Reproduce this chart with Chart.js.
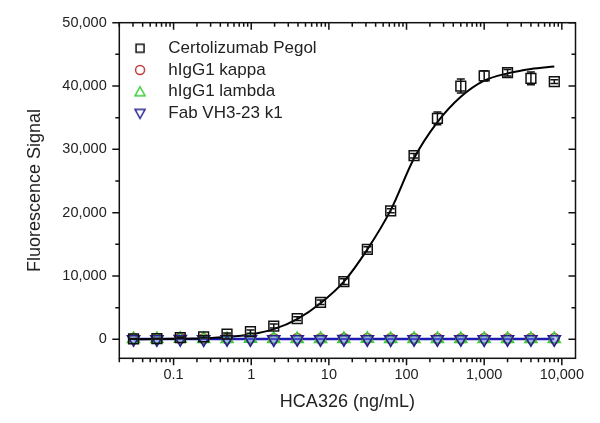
<!DOCTYPE html>
<html>
<head>
<meta charset="utf-8">
<script src="https://cdn.jsdelivr.net/npm/chart.js"></script>
<style>
  body { margin: 0; background: #fff; }
  canvas { display: block; }
</style>
</head>
<body>
<canvas id="chart" width="600" height="423"></canvas>
<script>
// concentrations of HCA326 (ng/mL), 2-fold dilution series
const concentrations = [0.0305, 0.061, 0.122, 0.244, 0.488, 0.977, 1.95, 3.91, 7.81, 15.6, 31.3, 62.5, 125, 250, 500, 1000, 2000, 4000, 8000];

const certolizumab = [80, 120, 250, 400, 800, 1200, 2100, 3250, 5850, 9100, 14200, 20300, 29000, 34900, 40000, 41600, 42100, 41200, 40700];
const certolizumabErr = [60, 60, 100, 150, 200, 250, 300, 300, 350, 450, 400, 300, 350, 1000, 1100, 800, 500, 1000, 300];
const certolizumabFit = [15, 30, 70, 160, 350, 750, 1600, 3200, 5700, 9100, 14200, 20400, 28600, 34300, 38300, 40850, 42000, 42700, 43100];

const hIgG1Kappa = [120, 100, 150, 90, 110, 130, 100, 120, 90, 110, 130, 100, 120, 110, 90, 120, 100, 130, 110];
const hIgG1Lambda = [60, 40, 80, 50, 30, 70, 50, 40, 60, 50, 70, 40, 60, 50, 30, 60, 50, 40, 60];
const fabVH3 = [20, 10, 30, 0, 20, 10, 0, 20, 10, 30, 10, 0, 20, 10, 20, 0, 10, 20, 10];
const fabFit = [30, 30];
const fabFitX = [0.0305, 8000];

const xTicks = [0.1, 1, 10, 100, 1000, 10000];
const yTicks = [0, 10000, 20000, 30000, 40000, 50000];

const FONT = '"Liberation Sans", Arial, sans-serif';
Chart.defaults.font.family = FONT;
Chart.defaults.color = '#222';

const pts = (xs, ys) => xs.map((x, i) => ({ x: x, y: ys[i] }));

// legend icons drawn on small canvases so the marker can sit left of the label box
function legendIcon(kind, color) {
  const c = document.createElement('canvas');
  c.width = 40; c.height = 20;
  const g = c.getContext('2d');
  g.strokeStyle = color; g.lineWidth = 1.5;
  const cx = 18.1, cy = 10;
  g.beginPath();
  if (kind === 'rect') g.rect(cx - 4, cy - 4, 8, 8);
  if (kind === 'circle') g.arc(cx, cy, 4.5, 0, Math.PI * 2);
  if (kind === 'up') { g.moveTo(cx, cy - 5); g.lineTo(cx + 5, cy + 4); g.lineTo(cx - 5, cy + 4); g.closePath(); }
  if (kind === 'down') { g.moveTo(cx, cy + 5); g.lineTo(cx + 5, cy - 4); g.lineTo(cx - 5, cy - 4); g.closePath(); }
  g.stroke();
  return c;
}
const legendIcons = [
  legendIcon('rect', '#111'),
  legendIcon('circle', '#c03a3a'),
  legendIcon('up', '#3ccc3c'),
  legendIcon('down', '#23238c')
];

const xMinor = [];
[-2, -1, 0, 1, 2, 3, 4].forEach(n => {
  for (let k = 2; k <= 9; k++) {
    const v = k * Math.pow(10, n);
    if (v >= 0.02 && v <= 15000) xMinor.push(v);
  }
});
const yMinor = [5000, 15000, 25000, 35000, 45000];

const frameTicks = {
  id: 'frameTicks',
  afterDraw(chart) {
    const { ctx, chartArea: a, scales: { x, y } } = chart;
    ctx.save();
    ctx.strokeStyle = '#111';
    ctx.lineWidth = 1.5;
    ctx.strokeRect(a.left, a.top, a.right - a.left, a.bottom - a.top);
    ctx.beginPath();
    const xt = (v, len) => {
      const px = x.getPixelForValue(v);
      ctx.moveTo(px, a.bottom); ctx.lineTo(px, a.bottom + len);
      ctx.moveTo(px, a.top); ctx.lineTo(px, a.top + len);
    };
    const yt = (v, len) => {
      const py = y.getPixelForValue(v);
      ctx.moveTo(a.left, py); ctx.lineTo(a.left - len, py);
      ctx.moveTo(a.right, py); ctx.lineTo(a.right - len, py);
    };
    xTicks.forEach(v => xt(v, 7));
    xMinor.forEach(v => xt(v, 4));
    yTicks.forEach(v => yt(v, 7));
    yMinor.forEach(v => yt(v, 4));
    ctx.stroke();
    ctx.restore();
  }
};

const errorBars = {
  id: 'errorBars',
  afterDatasetsDraw(chart) {
    const { ctx, scales: { y } } = chart;
    const meta = chart.getDatasetMeta(0);
    ctx.save();
    ctx.strokeStyle = '#111';
    ctx.lineWidth = 1.5;
    ctx.beginPath();
    meta.data.forEach((pt, i) => {
      const top = y.getPixelForValue(certolizumab[i] + certolizumabErr[i]);
      const bot = y.getPixelForValue(certolizumab[i] - certolizumabErr[i]);
      ctx.moveTo(pt.x, top); ctx.lineTo(pt.x, bot);
      ctx.moveTo(pt.x - 4, top); ctx.lineTo(pt.x + 4, top);
      ctx.moveTo(pt.x - 4, bot); ctx.lineTo(pt.x + 4, bot);
    });
    ctx.stroke();
    ctx.restore();
  }
};

new Chart(document.getElementById('chart'), {
  type: 'scatter',
  data: {
    datasets: [
      {
        label: 'Certolizumab Pegol', order: 0,
        data: pts(concentrations, certolizumab),
        pointStyle: 'rect', pointRadius: 6.9, borderWidth: 1.5,
        borderColor: '#111', backgroundColor: 'rgba(0,0,0,0)', showLine: false
      },
      {
        label: 'hIgG1 kappa', order: 3,
        data: pts(concentrations, hIgG1Kappa),
        pointStyle: 'circle', pointRadius: 5, borderWidth: 1.5,
        borderColor: '#c03a3a', backgroundColor: 'rgba(0,0,0,0)', showLine: false
      },
      {
        label: 'hIgG1 lambda', order: 2,
        data: pts(concentrations, hIgG1Lambda),
        pointStyle: 'triangle', pointRadius: 7, borderWidth: 1.5,
        borderColor: '#3ccc3c', backgroundColor: 'rgba(0,0,0,0)', showLine: false
      },
      {
        label: 'Fab VH3-23 k1', order: 1,
        data: pts(concentrations, fabVH3),
        pointStyle: 'triangle', rotation: 180, pointRadius: 7, borderWidth: 1.6,
        borderColor: '#23238c', backgroundColor: 'rgba(120,140,230,0.45)', showLine: false
      },
      {
        label: 'Certolizumab fit', order: 4,
        data: pts(concentrations, certolizumabFit),
        showLine: true, pointRadius: 0, borderColor: '#000', borderWidth: 2,
        cubicInterpolationMode: 'monotone'
      },
      {
        label: 'Fab fit', order: 5,
        data: pts(fabFitX, fabFit),
        showLine: true, pointRadius: 0, borderColor: '#1c1cb4', borderWidth: 2.5
      }
    ]
  },
  options: {
    responsive: false,
    animation: false,
    layout: { padding: { left: 0, top: 22.7, right: 24.5, bottom: 0 } },
    scales: {
      x: {
        type: 'logarithmic',
        position: 'bottom',
        min: 0.02, max: 15000,
        grid: { display: false, drawTicks: false },
        border: { display: false },
        afterBuildTicks: s => { s.ticks = xTicks.map(v => ({ value: v })); },
        afterFit: s => { s.height = 423 - 358.3; },
        ticks: {
          padding: 7.5, maxRotation: 0, autoSkip: false, color: '#222',
          font: { size: 14.5 },
          callback: v => Number(v).toLocaleString('en-US')
        },
        title: {
          display: true, text: 'HCA326 (ng/mL)', color: '#222',
          font: { size: 18 }, padding: { top: 0, bottom: 10.5 }
        }
      },
      y: {
        type: 'linear',
        min: -3000, max: 50000,
        grid: { display: false, drawTicks: false },
        border: { display: false },
        afterBuildTicks: s => { s.ticks = yTicks.map(v => ({ value: v })); },
        afterFit: s => { s.width = 119.3; },
        ticks: {
          padding: 12.6, color: '#222', font: { size: 14.5 },
          callback: v => Number(v).toLocaleString('en-US')
        },
        title: {
          display: true, text: 'Fluorescence Signal', color: '#222',
          font: { size: 18 }, padding: { top: 24.2, bottom: 0 }
        }
      }
    },
    plugins: {
      tooltip: { enabled: false },
      legend: {
        position: 'chartArea',
        align: 'start',
        title: { display: true, text: '', padding: { top: 22.7, bottom: 0 }, font: { size: 10, lineHeight: 1.24 } },
        labels: {
          usePointStyle: true,
          pointStyleWidth: 35.8,
          padding: 4.7,
          color: '#222',
          font: { size: 17 },
          generateLabels(chart) {
            return Chart.defaults.plugins.legend.labels.generateLabels(chart)
              .filter(it => it.datasetIndex < 4)
              .sort((a, b) => a.datasetIndex - b.datasetIndex)
              .map(it => Object.assign(it, { pointStyle: legendIcons[it.datasetIndex], rotation: 0 }));
          }
        }
      }
    }
  },
  plugins: [errorBars, frameTicks]
});
</script>
</body>
</html>
